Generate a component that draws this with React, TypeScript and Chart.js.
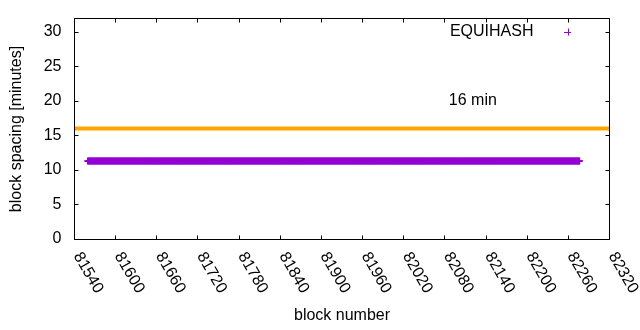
import React, { useEffect, useRef } from "react";
import { Chart, registerables } from "chart.js";

Chart.register(...registerables);

// ---- data ----
const seriesName = "EQUIHASH";
const firstBlock = 81560;
const lastBlock = 82277;
const spacingMinutes = 11.3; // every block in the range shows the same spacing
const targetMinutes = 16;
const targetLabel = "16 min";
const targetLabelPos = { x: 82088, y: 20 };
const xTicks = [81540, 81600, 81660, 81720, 81780, 81840, 81900, 81960, 82020, 82080, 82140, 82200, 82260, 82320];
const yTicks = [0, 5, 10, 15, 20, 25, 30];
const xRange = { min: 81540, max: 82320 };
const yRange = { min: 0, max: 32 };
const xTitle = "block number";
const yTitle = "block spacing [minutes]";

const PURPLE = "#9400d3";
const ORANGE = "#ffa500";
const FONT = "16px 'Liberation Sans', Arial, sans-serif";

const blocks: number[] = [];
for (let b = firstBlock; b <= lastBlock; b++) blocks.push(b);
const points = blocks.map((b) => ({ x: b, y: spacingMinutes }));

const gnuplotFrame = {
  id: "gnuplotFrame",
  afterDraw(chart: any) {
    const { ctx, chartArea } = chart;
    const xs = chart.scales.x;
    const ys = chart.scales.y;
    const L = Math.round(chartArea.left) + 0.5;
    const R = Math.round(chartArea.right) + 0.5;
    const T = Math.round(chartArea.top) + 0.5;
    const B = Math.round(chartArea.bottom) + 0.5;
    ctx.save();
    ctx.strokeStyle = "#000";
    ctx.lineWidth = 1;
    ctx.strokeRect(L, T, R - L, B - T);
    const tl = 4;
    ctx.beginPath();
    xTicks.forEach((v) => {
      const px = Math.round(xs.getPixelForValue(v)) + 0.5;
      ctx.moveTo(px, B);
      ctx.lineTo(px, B - tl);
      ctx.moveTo(px, T);
      ctx.lineTo(px, T + tl);
    });
    yTicks.forEach((v) => {
      const py = Math.round(ys.getPixelForValue(v)) + 0.5;
      ctx.moveTo(L, py);
      ctx.lineTo(L + tl, py);
      ctx.moveTo(R, py);
      ctx.lineTo(R - tl, py);
    });
    ctx.stroke();

    ctx.fillStyle = "#000";
    ctx.font = FONT;
    // y tick labels
    ctx.textAlign = "right";
    ctx.textBaseline = "middle";
    yTicks.forEach((v) => {
      ctx.fillText(String(v), L - 13, ys.getPixelForValue(v));
    });
    // x tick labels rotated
    xTicks.forEach((v) => {
      const px = xs.getPixelForValue(v);
      ctx.save();
      ctx.translate(px + 3, B + 14);
      ctx.rotate((60 * Math.PI) / 180);
      ctx.textAlign = "left";
      ctx.textBaseline = "middle";
      ctx.fillText(String(v), 0, 0);
      ctx.restore();
    });
    // axis titles
    ctx.textAlign = "center";
    ctx.textBaseline = "middle";
    ctx.fillText(xTitle, (L + R) / 2, 316);
    ctx.save();
    ctx.translate(17, (T + B) / 2);
    ctx.rotate(-Math.PI / 2);
    ctx.fillText(yTitle, 0, 0);
    ctx.restore();
    // label
    ctx.textAlign = "left";
    ctx.fillText(targetLabel, xs.getPixelForValue(targetLabelPos.x) - 1, ys.getPixelForValue(targetLabelPos.y));
    // legend
    ctx.textAlign = "right";
    const ly = T + 13.5;
    ctx.fillText(seriesName, R - 76, ly);
    const cx = R - 42;
    ctx.strokeStyle = PURPLE;
    ctx.beginPath();
    ctx.moveTo(cx - 3.5, Math.round(ly) + 0.5);
    ctx.lineTo(cx + 3.5, Math.round(ly) + 0.5);
    ctx.moveTo(Math.round(cx) + 0.5, ly - 3.5);
    ctx.lineTo(Math.round(cx) + 0.5, ly + 3.5);
    ctx.stroke();
    ctx.restore();
  },
};

export default function App() {
  const ref = useRef<HTMLCanvasElement | null>(null);
  useEffect(() => {
    if (!ref.current) return;
    const chart = new Chart(ref.current, {
      type: "scatter",
      data: {
        datasets: [
          {
            type: "line",
            label: "target",
            data: [
              { x: xRange.min, y: targetMinutes },
              { x: xRange.max, y: targetMinutes },
            ],
            borderColor: ORANGE,
            borderWidth: 4,
            pointRadius: 0,
            clip: 2,
          } as any,
          {
            label: seriesName,
            data: points,
            pointStyle: "cross",
            pointRadius: 3.5,
            pointBorderWidth: 1.5,
            borderColor: PURPLE,
            backgroundColor: PURPLE,
            pointHoverRadius: 3.5,
          } as any,
        ],
      },
      options: {
        responsive: false,
        animation: false,
        events: [],
        layout: { padding: { left: 74, top: 18, right: 31, bottom: 91 } },
        plugins: { legend: { display: false }, tooltip: { enabled: false } },
        scales: {
          x: { type: "linear", display: false, min: xRange.min, max: xRange.max },
          y: { type: "linear", display: false, min: yRange.min, max: yRange.max },
        },
      },
      plugins: [gnuplotFrame],
    });
    return () => chart.destroy();
  }, []);
  return (
    <div style={{ position: "fixed", left: 0, top: 0, width: 640, height: 330, background: "#fff" }}>
      <canvas ref={ref} width={640} height={330} style={{ width: 640, height: 330 }} />
    </div>
  );
}
